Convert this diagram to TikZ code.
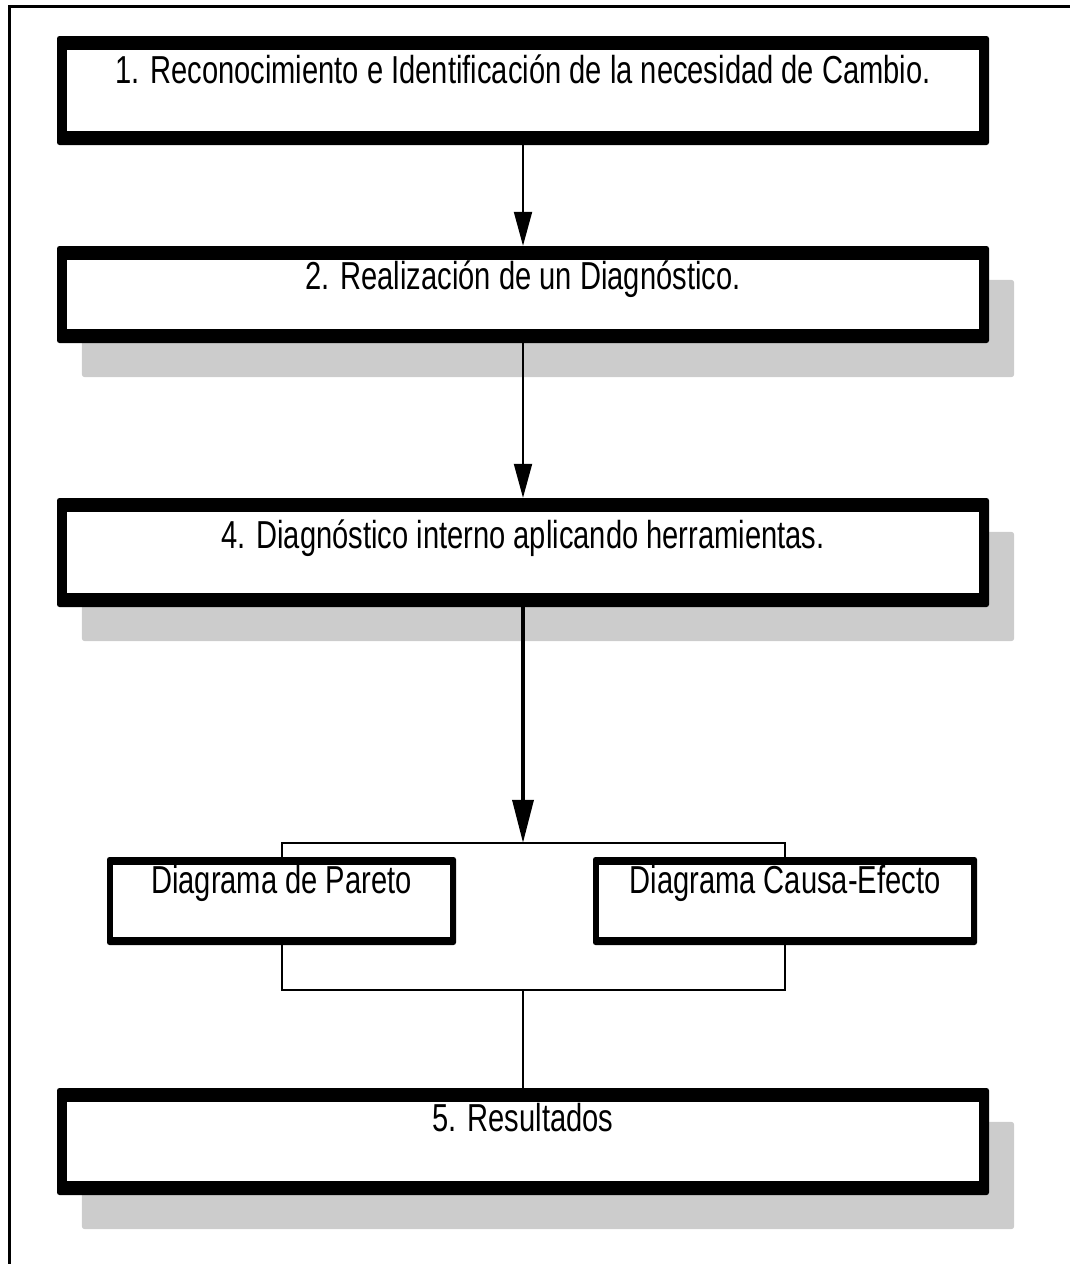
\documentclass[tikz,border=0pt]{standalone}
\usepackage{fontspec}
\setmainfont{Liberation Sans}[FakeStretch=0.747]
\usetikzlibrary{arrows.meta}
\pgfdeclarelayer{background}
\pgfsetlayers{background,main}
\definecolor{shade}{HTML}{CCCCCC}
\tikzset{
  framed/.style 2 args={fill=black, rounded corners=2.5pt, inner sep=0pt, align=center,
    font=\fontsize{39}{47}\selectfont,
    path picture={\fill[white, sharp corners]
      ([xshift=#1,yshift=#2]path picture bounding box.south west) rectangle
      ([xshift=-#1,yshift=-#2]path picture bounding box.north east);}},
  stage/.style={framed={10pt}{14pt}, minimum width=932pt},
  tool/.style={framed={6pt}{8pt}},
  flow/.style={line width=2pt, -{Triangle[width=18pt,length=34pt]}},
  bigflow/.style={line width=3.5pt, -{Triangle[width=21pt,length=43pt]}},
  link/.style={line width=2pt},
  shadowbox/.style={fill=shade, rounded corners=3pt},
}
\begin{document}
\begin{tikzpicture}[x=1pt,y=-1pt]
\useasboundingbox (0,0) rectangle (1070,1264);

% page frame
\draw[line width=3pt] (9.5,1264) -- (9.5,6.5) -- (1070,6.5);

% main stages
\node[stage, text height=47pt, text depth=62pt] (b1) at (523,90.5)
  {1. Reconocimiento e Identificación de la necesidad de Cambio.};
\node[stage, text height=43pt, text depth=54pt] (b2) at (523,294.5)
  {2. Realización de un Diagnóstico.};
\node[stage, text height=50pt, text depth=59pt] (b4) at (523,552.5)
  {4. Diagnóstico interno aplicando herramientas.};
\node[stage, text height=43pt, text depth=64pt] (b5) at (523,1141.5)
  {5. Resultados};

% diagnostic tools
\node[tool, minimum width=349pt, text height=36pt, text depth=52pt] (pareto) at (281.5,901)
  {Diagrama de Pareto};
\node[tool, minimum width=384pt, text height=36pt, text depth=52pt] (causa) at (785,901)
  {Diagrama Causa-Efecto};

% drop shadows
\begin{pgfonlayer}{background}
  \foreach \b in {b2,b4,b5}
    \fill[shadowbox] ([xshift=25pt,yshift=-34pt]\b.south west) rectangle
                     ([xshift=25pt,yshift=-34pt]\b.north east);
\end{pgfonlayer}

% connectors
\draw[flow] (b1.south) -- (b2.north);
\draw[flow] (b2.south) -- (b4.north);
\coordinate (split) at ([yshift=14pt]pareto.north -| b4.south);
\coordinate (merge) at ([yshift=-45pt]pareto.south -| b5.north);
\draw[bigflow] (b4.south) -- (split);
\draw[link] (pareto.north) -- ++(0,-14) -| (causa.north);
\draw[link] (pareto.south) -- ++(0,45) -| (causa.south);
\draw[link] (merge) -- (b5.north);
\end{tikzpicture}
\end{document}
